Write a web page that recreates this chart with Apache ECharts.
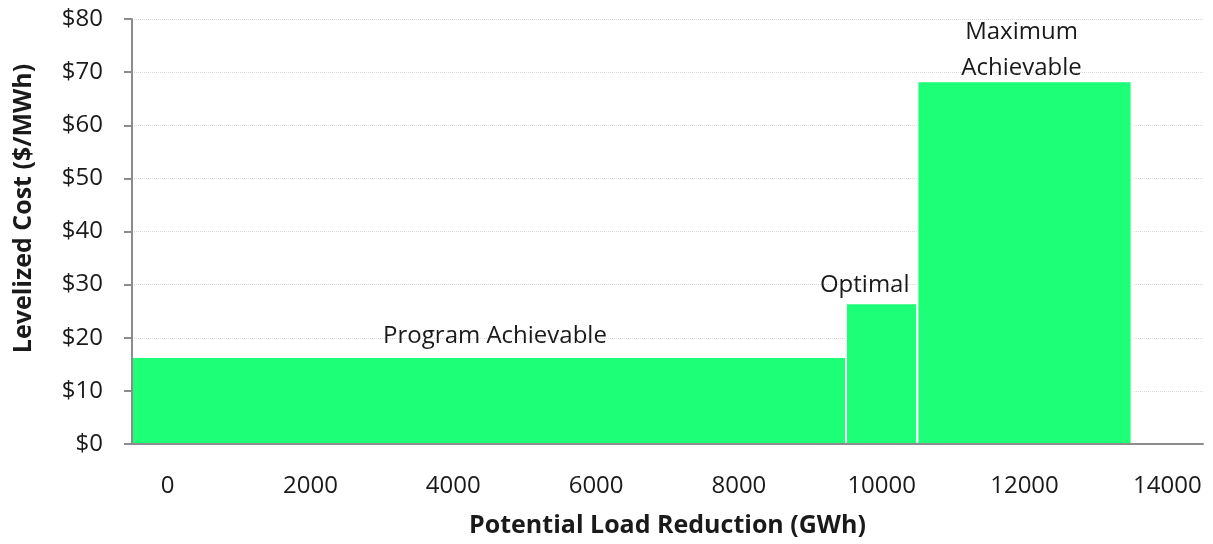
<!DOCTYPE html>
<html>
<head>
<meta charset="utf-8">
<script src="https://cdn.jsdelivr.net/npm/echarts@6/dist/echarts.min.js"></script>
<style>
  html,body{margin:0;padding:0;background:#fff;}
  #main{width:1213px;height:544px;}
</style>
</head>
<body>
<div id="main"></div>
<script>
    //柱子名称
    var barNames=['Program Achievable','Optimal','Maximum\nAchievable'];
    //柱子起点 (GWh)
    var barStart=[-500,9500,10500];
    //柱子终点 (GWh)
    var barEnd=[9500,10500,13500];
    //成本值 ($/MWh)
    var barCost=[16.4,26.5,68.3];
    //x轴刻度
    var xTicks=[0,2000,4000,6000,8000,10000,12000,14000];

    //标签偏移(像素)
    var labelOffset=[[6,2],[-17,5],[-3,10]];

    var fontName='"Open Sans", "Liberation Sans", sans-serif';

    var seriesData=[];
    for(var i=0;i<barNames.length;i++){
        seriesData.push([barStart[i],barEnd[i],barCost[i],barNames[i]]);
    }

    var myChart=echarts.init(document.getElementById('main'));

    var option={
        animation:false,
        grid:{left:132,right:10,top:19,bottom:100},
        xAxis:{
            type:'value',
            min:-500,
            max:14500,
            z:5,
            name:'Potential Load Reduction (GWh)',
            nameLocation:'middle',
            nameGap:69,
            nameTextStyle:{fontFamily:fontName,fontWeight:'bold',fontSize:25,color:'#1a1a1a'},
            axisLine:{show:true,onZero:false,lineStyle:{color:'#8c8c8c',width:2}},
            axisTick:{show:false},
            splitLine:{show:false},
            axisLabel:{
                customValues:xTicks,
                margin:30,
                fontFamily:fontName,
                fontSize:24,
                color:'#1a1a1a',
                formatter:function(v){return String(v);}
            }
        },
        yAxis:[{
            //主轴: 轴线和标签
            type:'value',
            min:0,
            max:80,
            interval:10,
            z:5,
            name:'Levelized Cost ($/MWh)',
            nameLocation:'middle',
            nameGap:96,
            nameTextStyle:{fontFamily:fontName,fontWeight:'bold',fontSize:25,color:'#1a1a1a',padding:[0,0,0,46]},
            axisLine:{show:true,onZero:false,lineStyle:{color:'#8c8c8c',width:2}},
            axisTick:{show:true,length:8,lineStyle:{color:'#8c8c8c',width:2}},
            splitLine:{show:false},
            axisLabel:{
                margin:29,
                fontFamily:fontName,
                fontSize:24,
                color:'#1a1a1a',
                formatter:function(v){return '$'+v;}
            }
        },{
            //网格线放在柱子后面
            type:'value',
            min:0,
            max:80,
            interval:10,
            z:0,
            position:'left',
            axisLine:{show:false},
            axisTick:{show:false},
            axisLabel:{show:false},
            splitLine:{show:true,lineStyle:{color:'#d9d9d9',type:'dotted',width:1}}
        }],
        series:[{
            type:'custom',
            z:2,
            data:seriesData,
            encode:{x:[0,1],y:2},
            renderItem:function(params,api){
                var p0=api.coord([api.value(0),api.value(2)]);
                var p1=api.coord([api.value(1),0]);
                var off=labelOffset[params.dataIndex];
                return {
                    type:'rect',
                    shape:{x:p0[0],y:p0[1],width:p1[0]-p0[0],height:p1[1]-p0[1]},
                    style:{fill:'#1dff76',stroke:'#ffffff',lineWidth:2},
                    textContent:{
                        style:{
                            text:barNames[params.dataIndex],
                            font:'24px '+fontName,
                            fill:'#1a1a1a',
                            align:'center',
                            lineHeight:36
                        }
                    },
                    textConfig:{position:'top',distance:4,offset:off}
                };
            }
        }]
    };

    myChart.setOption(option);
</script>
</body>
</html>
